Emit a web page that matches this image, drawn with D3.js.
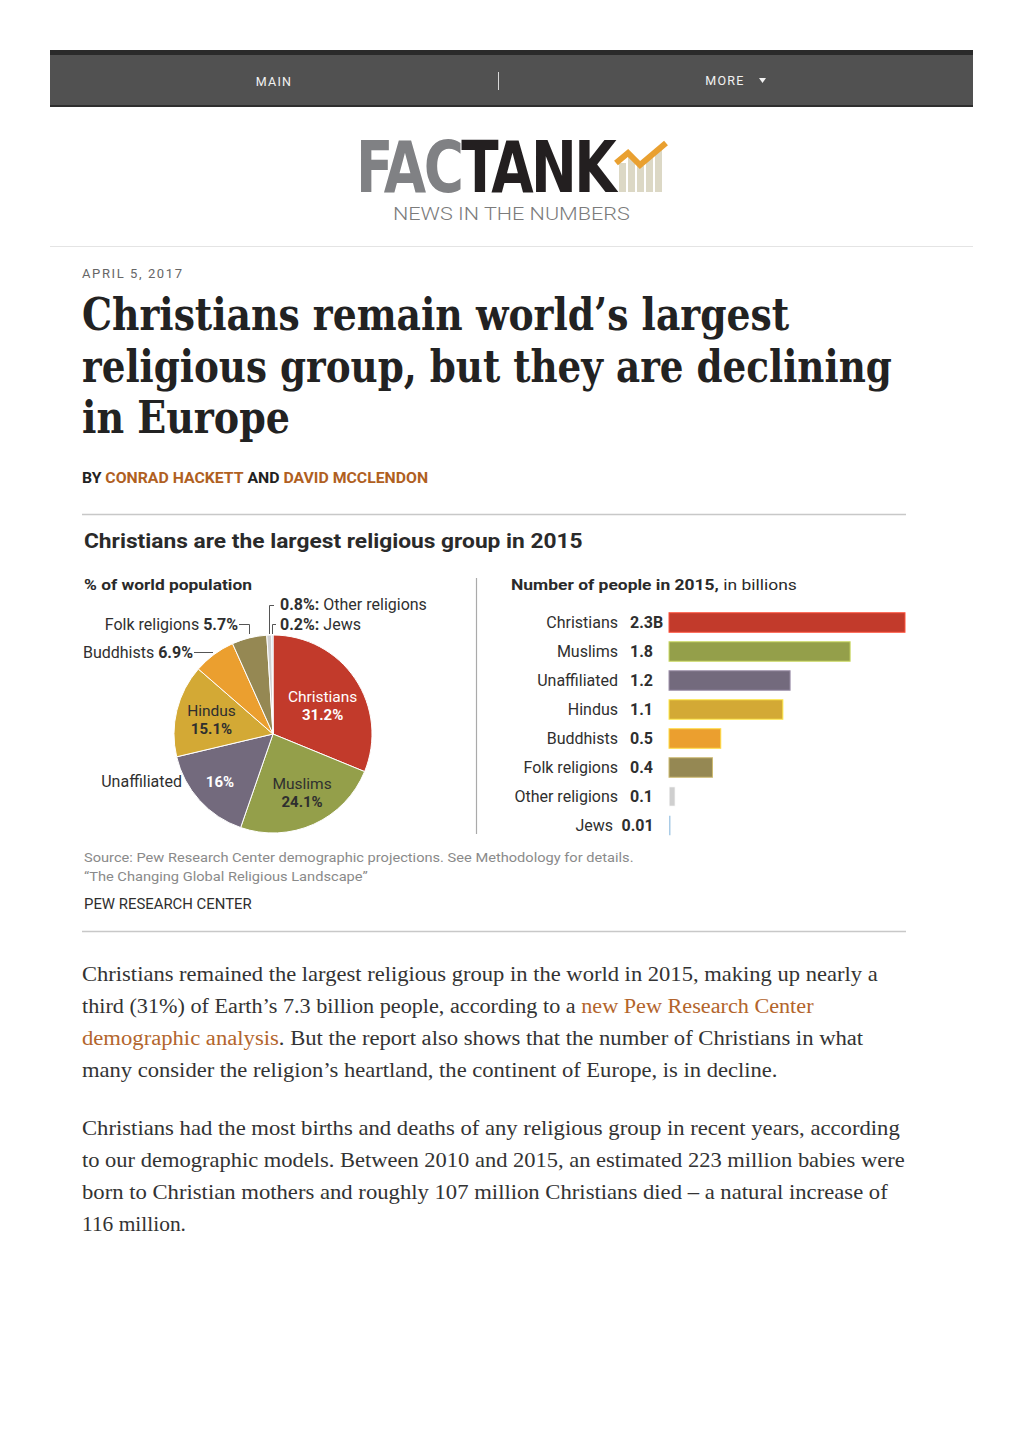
<!DOCTYPE html>
<html><head><meta charset="utf-8">
<script src="https://cdn.jsdelivr.net/npm/d3@7"></script>
<style>
html,body{margin:0;padding:0;background:#fff;}
svg{display:block;}
</style></head>
<body>
<svg id="page" width="1020" height="1443"></svg>
<script>
// ---------- data ----------
const navItems = ["MAIN", "MORE"];
const categories = ["Christians","Muslims","Unaffiliated","Hindus","Buddhists","Folk religions","Other religions","Jews"];
const pieShares = [31.2, 24.1, 16, 15.1, 6.9, 5.7, 0.8, 0.2];
const pieShareLabels = ["31.2%","24.1%","16%","15.1%","6.9%","5.7%","0.8%","0.2%"];
const barValues = [2.28, 1.75, 1.17, 1.10, 0.50, 0.42, 0.06, 0.014];
const barLabels = ["2.3B","1.8","1.2","1.1","0.5","0.4","0.1","0.01"];
const colors = ["#c23a2b","#949f4a","#736a7d","#d3a935","#eb9f2f","#958853","#cfcfcf","#a9cbe6"];
const titleLines = ["Christians remain world\u2019s largest","religious group, but they are declining","in Europe"];
const bodyPara1 = [
  [["Christians remained the largest religious group in the world in 2015, making up nearly a",0]],
  [["third (31%) of Earth\u2019s 7.3 billion people, according to a ",0],["new Pew Research Center",1]],
  [["demographic analysis",1],[". But the report also shows that the number of Christians in what",0]],
  [["many consider the religion\u2019s heartland, the continent of Europe, is in decline.",0]]
];
const bodyPara2 = [
  [["Christians had the most births and deaths of any religious group in recent years, according",0]],
  [["to our demographic models. Between 2010 and 2015, an estimated 223 million babies were",0]],
  [["born to Christian mothers and roughly 107 million Christians died \u2013 a natural increase of",0]],
  [["116 million.",0]]
];
const para1Widths = [796, 732, 782, 696];
const para2Widths = [818, 823, 806, 104];

// ---------- helpers ----------
const svg = d3.select("#page");
function fit(sel, w, x){
  const node = sel.node();
  const bb = node.getBBox();
  if (bb.width > 0){
    const k = w / bb.width;
    sel.attr("transform", `translate(${x},0) scale(${k},1) translate(${-bb.x},0)`);
  }
  return sel;
}
const SANS = "Roboto, 'Liberation Sans', sans-serif";

// ---------- nav bar ----------
svg.append("rect").attr("x",50).attr("y",50).attr("width",923).attr("height",57).attr("fill","#515151");
svg.append("rect").attr("x",50).attr("y",50).attr("width",923).attr("height",5).attr("fill","#2a2a2a");
svg.append("rect").attr("x",50).attr("y",105).attr("width",923).attr("height",2).attr("fill","#2e2e2e");
svg.append("line").attr("x1",498.5).attr("x2",498.5).attr("y1",72).attr("y2",90).attr("stroke","#d8d8d8").attr("stroke-width",1);
const navX = [274, 725];
svg.selectAll("text.nav").data(navItems).join("text").attr("class","nav")
  .attr("x",(d,i)=>navX[i]).attr("y",(d,i)=> i===0?86:85).attr("text-anchor","middle")
  .attr("font-family",SANS).attr("font-size",12.5).attr("letter-spacing",1.3).attr("fill","#f2f2f2").text(d=>d);
svg.append("path").attr("d","M759,78 L766,78 L762.5,83 Z").attr("fill","#f2f2f2");

// ---------- logo ----------
const logo = svg.append("text").attr("x",360).attr("y",192)
  .attr("font-family","'DejaVu Sans Condensed','DejaVu Sans',sans-serif").attr("font-stretch","condensed")
  .attr("font-weight","bold").attr("font-size",71).attr("letter-spacing",-3);
logo.append("tspan").attr("fill","#808184").text("FAC");
logo.append("tspan").attr("fill","#231f20").text("TANK");
fit(logo, 263, 356);
// logo icon bars
const iconBars = [[619,163],[628,157],[637,166],[646,158],[655,150]];
svg.selectAll("rect.ib").data(iconBars).join("rect").attr("class","ib")
  .attr("x",d=>d[0]).attr("y",d=>d[1]).attr("width",7).attr("height",d=>192-d[1]).attr("fill","#dcd8c5");
svg.append("path").attr("d","M616,163 L628,153 L640,165 L666,143")
  .attr("fill","none").attr("stroke","#e9a030").attr("stroke-width",6).attr("stroke-linejoin","miter");
const news = svg.append("text").attr("x",393).attr("y",220).attr("font-family",SANS).attr("font-weight",300)
  .attr("font-size",18).attr("fill","#7b7b7b").text("NEWS IN THE NUMBERS");
fit(news, 237, 393);

svg.append("line").attr("x1",50).attr("x2",973).attr("y1",246.5).attr("y2",246.5).attr("stroke","#e4e4e4");

// ---------- headline ----------
svg.append("text").attr("x",82).attr("y",278).attr("font-family",SANS).attr("font-size",13)
  .attr("letter-spacing",1.6).attr("fill","#666").text("APRIL 5, 2017");
const titleW = [708, 810, 208];
titleLines.forEach((t,i)=>{
  const s = svg.append("text").attr("x",82).attr("y",330 + i*51.7)
    .attr("font-family","'DejaVu Serif Condensed','DejaVu Serif',serif").attr("font-stretch","condensed")
    .attr("font-weight","bold").attr("font-size",44).attr("fill","#222").text(t);
  fit(s, titleW[i], 82);
});
const by = svg.append("text").attr("x",82).attr("y",483).attr("font-family",SANS).attr("font-weight","bold").attr("font-size",14.5);
by.append("tspan").attr("fill","#222").text("BY ");
by.append("tspan").attr("fill","#b0601f").text("CONRAD HACKETT");
by.append("tspan").attr("fill","#222").text(" AND ");
by.append("tspan").attr("fill","#b0601f").text("DAVID MCCLENDON");
fit(by, 346, 82);

// ---------- chart frame ----------
svg.append("line").attr("x1",82).attr("x2",906).attr("y1",514.5).attr("y2",514.5).attr("stroke","#c8c8c8").attr("stroke-width",1.5);
svg.append("line").attr("x1",82).attr("x2",906).attr("y1",931.5).attr("y2",931.5).attr("stroke","#c8c8c8").attr("stroke-width",1.5);
const ct = svg.append("text").attr("x",84).attr("y",548).attr("font-family",SANS).attr("font-weight","bold")
  .attr("font-size",20).attr("fill","#2a2a2a").text("Christians are the largest religious group in 2015");
fit(ct, 499, 84);
const sub1 = svg.append("text").attr("x",84).attr("y",590).attr("font-family",SANS).attr("font-weight","bold")
  .attr("font-size",15).attr("fill","#2a2a2a").text("% of world population");
fit(sub1, 168, 84);
svg.append("line").attr("x1",476.5).attr("x2",476.5).attr("y1",578).attr("y2",834).attr("stroke","#aaa").attr("stroke-width",1.2);

// ---------- pie ----------
const cx = 273, cy = 734, R = 99;
const pie = d3.pie().sort(null).value(d=>d)(pieShares);
const arc = d3.arc().innerRadius(0).outerRadius(R);
const pg = svg.append("g").attr("transform",`translate(${cx},${cy})`);
pg.selectAll("path").data(pie).join("path").attr("d",arc)
  .attr("fill",(d,i)=>colors[i]).attr("stroke","#fff").attr("stroke-width",1);

const labArc = d3.arc().innerRadius(R*0.64).outerRadius(R*0.64);
const inside = [0,1,3];
const insideFill = ["#fff","#2f2f2f",null,"#2f2f2f"];
inside.forEach(i=>{
  const [x,y] = labArc.centroid(pie[i]);
  const ax = cx + x - (i===0?3:0) + (i===1?3:0), ay = cy + y + (i===0?6:0);
  pg.append("text").attr("x",ax-cx).attr("y",ay-cy-3).attr("text-anchor","middle")
    .attr("font-family",SANS).attr("font-size",15.5).attr("fill",insideFill[i]).text(categories[i]);
  pg.append("text").attr("x",ax-cx).attr("y",ay-cy+15).attr("text-anchor","middle")
    .attr("font-family",SANS).attr("font-weight","bold").attr("font-size",15).attr("fill",insideFill[i]).text(pieShareLabels[i]);
});
{
  const [x,y] = labArc.centroid(pie[2]);
  pg.append("text").attr("x",x-6).attr("y",y+10.5).attr("text-anchor","middle")
    .attr("font-family",SANS).attr("font-weight","bold").attr("font-size",15).attr("fill","#fff").text(pieShareLabels[2]);
  pg.append("text").attr("x",x-44).attr("y",y+10.5).attr("text-anchor","end")
    .attr("font-family",SANS).attr("font-size",16).attr("fill","#2f2f2f").text(categories[2]);
}
// outside labels
function mixed(x,y,parts,anchor){
  const t = svg.append("text").attr("x",x).attr("y",y).attr("text-anchor",anchor||"start")
    .attr("font-family",SANS).attr("font-size",16).attr("fill","#2f2f2f");
  parts.forEach(p=>t.append("tspan").attr("font-weight",p[1]?"bold":"normal").text(p[0]));
  return t;
}
mixed(193,657.5,[[categories[4]+" ",0],[pieShareLabels[4],1]],"end");
mixed(238,629.5,[[categories[5]+" ",0],[pieShareLabels[5],1]],"end");
mixed(280,610,[[pieShareLabels[6]+":",1],[" "+categories[6],0]]);
mixed(280,629.5,[[pieShareLabels[7]+":",1],[" "+categories[7],0]]);
const leader = "#555";
svg.append("path").attr("d","M194,652.5 H213").attr("stroke",leader).attr("fill","none");
svg.append("path").attr("d","M239,624.5 H249.5 V634").attr("stroke",leader).attr("fill","none");
svg.append("path").attr("d","M274,605.5 H269.5 V634").attr("stroke",leader).attr("fill","none");
svg.append("path").attr("d","M276,624.5 H272.5 V634").attr("stroke",leader).attr("fill","none");

// ---------- bars ----------
const sub2 = svg.append("text").attr("x",511).attr("y",590).attr("font-family",SANS).attr("font-size",15).attr("fill","#2a2a2a");
sub2.append("tspan").attr("font-weight","bold").text("Number of people in 2015,");
sub2.append("tspan").text(" in billions");
fit(sub2, 286, 511);

const xb = d3.scaleLinear().domain([0, d3.max(barValues)]).range([669, 905]);
const yb = d3.scalePoint().domain(categories).range([622.5, 825.5]);
const bh = 19.5;
const bars = svg.append("g");
bars.selectAll("rect").data(barValues).join("rect")
  .attr("x",xb(0)).attr("y",(d,i)=>yb(categories[i])-bh/2)
  .attr("width",d=>Math.max(1.5, xb(d)-xb(0))).attr("height",bh)
  .attr("fill",(d,i)=>colors[i])
  .attr("stroke",(d,i)=>d3.color(colors[i]).brighter(0.9)).attr("stroke-width",(d,i)=> i===categories.length-1?0:1);
const last = categories.length-1;
bars.selectAll("text.cat").data(categories).join("text").attr("class","cat")
  .attr("x",(d,i)=> i===last?613:618).attr("y",d=>yb(d)+5.5).attr("text-anchor","end")
  .attr("font-family",SANS).attr("font-size",16).attr("fill","#2f2f2f").text(d=>d);
bars.selectAll("text.val").data(barLabels).join("text").attr("class","val")
  .attr("x",(d,i)=> i===last?621.5:630).attr("y",(d,i)=>yb(categories[i])+5.5)
  .attr("font-family",SANS).attr("font-weight","bold").attr("font-size",16).attr("fill","#2f2f2f").text(d=>d);

// ---------- source ----------
const s1 = svg.append("text").attr("x",84).attr("y",862).attr("font-family",SANS).attr("font-size",13.5).attr("fill","#8a8a8a")
  .text("Source: Pew Research Center demographic projections. See Methodology for details.");
fit(s1, 550, 84);
const s2 = svg.append("text").attr("x",84).attr("y",881).attr("font-family",SANS).attr("font-size",13.5).attr("fill","#8a8a8a")
  .text("\u201CThe Changing Global Religious Landscape\u201D");
fit(s2, 284, 84);
const s3 = svg.append("text").attr("x",84).attr("y",909).attr("font-family",SANS).attr("font-size",14.5).attr("fill","#2f2f2f")
  .text("PEW RESEARCH CENTER");
fit(s3, 168, 84);

// ---------- body ----------
function para(lines, widths, y0){
  lines.forEach((ln,i)=>{
    const t = svg.append("text").attr("x",82).attr("y",y0 + i*32)
      .attr("font-family","'Liberation Serif','DejaVu Serif',serif").attr("font-size",20.5).attr("fill","#333");
    ln.forEach(p=>t.append("tspan").attr("fill",p[1]?"#b3652c":"#333").text(p[0]));
    fit(t, widths[i], 82);
  });
}
para(bodyPara1, para1Widths, 981);
para(bodyPara2, para2Widths, 1135);
</script>
</body></html>
